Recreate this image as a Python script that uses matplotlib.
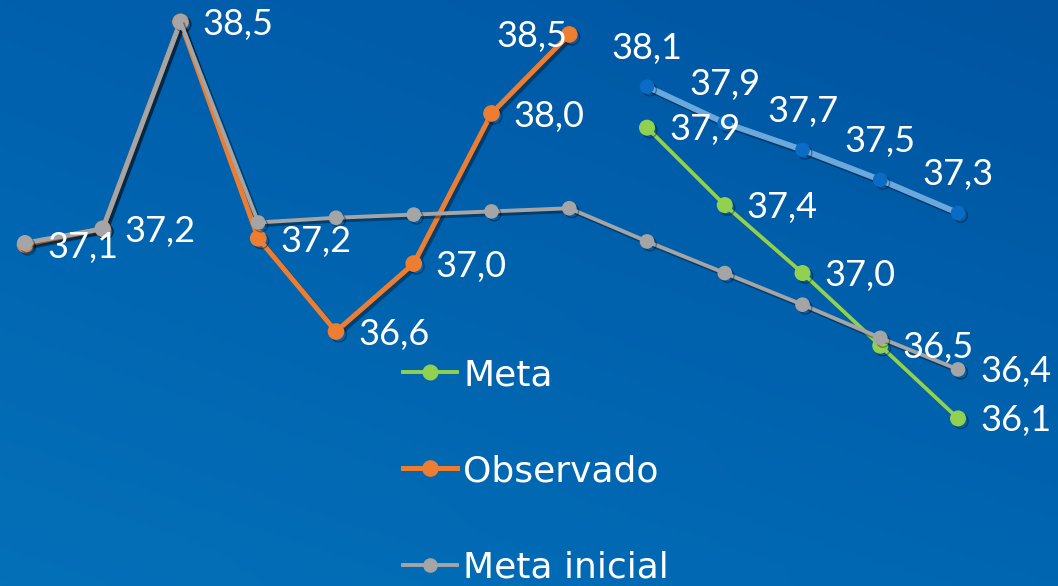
import numpy as np
import matplotlib.pyplot as plt
import matplotlib.patheffects as pe
from matplotlib.lines import Line2D

plt.rcParams['font.family'] = ['Lato', 'DejaVu Sans']

# x positions (13 periods)
x = np.arange(13)

# series values
observado = [37.10, 37.20, 38.51, 37.14, 36.55, 36.98, 37.93, 38.43]
meta_inicial = [37.11, 37.20, 38.51, 37.24, 37.27, 37.29, 37.31, 37.33,
                37.12, 36.92, 36.72, 36.51, 36.31]
meta = [37.84, 37.35, 36.92, 36.46, 36.00]
meta_azul = [38.10, 37.87, 37.70, 37.51, 37.30]

# data labels as shown on the chart
obs_labels = ['37,1', '37,2', '38,5', '37,2', '36,6', '37,0', '38,0', '38,5']
meta_labels = ['37,9', '37,4', '37,0', '36,5', '36,1']
azul_labels = ['38,1', '37,9', '37,7', '37,5', '37,3']
ini_labels = {12: '36,4'}

W, H = 1058, 586
fig = plt.figure(figsize=(W / 100, H / 100), dpi=100)

# background gradient
bg = fig.add_axes([0, 0, 1, 1], zorder=0)
tl = np.array([0, 96, 174]) / 255
tr = np.array([0, 84, 160]) / 255
bl = np.array([4, 112, 184]) / 255
br = np.array([0, 102, 178]) / 255
u = np.linspace(0, 1, 200)[None, :, None]
v = np.linspace(0, 1, 120)[:, None, None]
img = (1 - v) * ((1 - u) * tl + u * tr) + v * ((1 - u) * bl + u * br)
bg.imshow(img, aspect='auto', extent=[0, 1, 0, 1])
bg.axis('off')

ax = fig.add_axes([0, 0, 1, 1], zorder=1)
ax.patch.set_alpha(0)
ax.axis('off')
step = 77.75
ax.set_xlim(-25 / step, (W - 25) / step)
ax.set_ylim(37.3 - (H - 213) / 158, 37.3 + 213 / 158)

shadow = [pe.SimpleLineShadow(offset=(2, -2), alpha=0.35, shadow_color='black'), pe.Normal()]

ax.plot(x[8:], meta_azul, color='#6aa8de', lw=4.2, marker='o', ms=9.5,
        mfc='#0a6cc4', mec='#0a6cc4', path_effects=shadow, zorder=2)
ax.plot(x[8:], meta, color='#92d050', lw=2.8, marker='o', ms=10.5,
        path_effects=shadow, zorder=3)
ax.plot(x[:8], observado, color='#ed7d31', lw=3.6, marker='o', ms=11,
        path_effects=shadow, zorder=4)
ax.plot(x[:3], meta_inicial[:3], color='#a5a5a5', lw=3.4, marker='o', ms=10.5,
        path_effects=shadow, zorder=5)
ax.plot(x[2:], meta_inicial[2:], color='#a5a5a5', lw=2.8, marker='o', ms=9.5,
        markevery=range(1, 11), path_effects=shadow, zorder=5)

fs = 26
def label(xv, yv, s, dx, dy, ha='left', va='center'):
    ax.annotate(s, (xv, yv), xytext=(dx, dy), textcoords='offset pixels',
                ha=ha, va=va, color='white', fontsize=fs, zorder=10)

for i, (val, s) in enumerate(zip(observado, obs_labels)):
    if i == 7:
        label(x[i], val, s, -2, -2, ha='right')
    else:
        label(x[i], val, s, 22, -3)
for i, (val, s) in enumerate(zip(meta, meta_labels)):
    label(x[8 + i], val, s, 22, -2)
for i, (val, s) in enumerate(zip(meta_azul, azul_labels)):
    label(x[8 + i], val, s, 0, 38, ha='center')
for i, s in ini_labels.items():
    label(x[i], meta_inicial[i], s, 22, -2)

handles = [
    Line2D([], [], color='#92d050', lw=2.8, marker='o', ms=10.5),
    Line2D([], [], color='#ed7d31', lw=3.6, marker='o', ms=11),
    Line2D([], [], color='#a5a5a5', lw=2.8, marker='o', ms=9.5),
]
leg = fig.legend(handles, ['Meta', 'Observado', 'Meta inicial'],
                 loc='upper left', bbox_to_anchor=(403 / W, 1 - 358 / H),
                 frameon=False, labelcolor='white',
                 prop={'family': 'DejaVu Sans', 'size': 26},
                 handlelength=1.5, handletextpad=0.17, labelspacing=1.72,
                 borderpad=0, borderaxespad=0)

fig.savefig('out.png', dpi=100)
